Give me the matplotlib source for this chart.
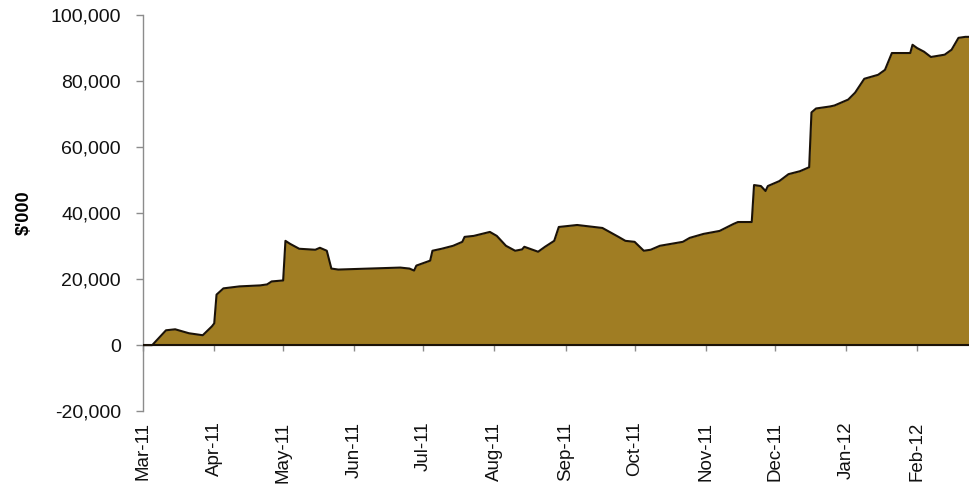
import matplotlib
matplotlib.use("Agg")
import matplotlib.pyplot as plt
import matplotlib.dates as mdates
import matplotlib.ticker as mticker
import numpy as np
import pandas as pd

plt.rcParams['font.family'] = ['Liberation Sans', 'DejaVu Sans']

dates = [
    "2011-03-01", "2011-03-05", "2011-03-11", "2011-03-15", "2011-03-21", "2011-03-27",
    "2011-03-31", "2011-04-01", "2011-04-02", "2011-04-05", "2011-04-12", "2011-04-21",
    "2011-04-24", "2011-04-26", "2011-05-01", "2011-05-02", "2011-05-04", "2011-05-08",
    "2011-05-15", "2011-05-17", "2011-05-20", "2011-05-22", "2011-05-25", "2011-06-21",
    "2011-06-25", "2011-06-27", "2011-06-28", "2011-07-04", "2011-07-05", "2011-07-09",
    "2011-07-14", "2011-07-18", "2011-07-19", "2011-07-23", "2011-07-30", "2011-08-02",
    "2011-08-06", "2011-08-10", "2011-08-13", "2011-08-14", "2011-08-20", "2011-08-23",
    "2011-08-27", "2011-08-29", "2011-09-06", "2011-09-17", "2011-09-24", "2011-09-27",
    "2011-10-01", "2011-10-05", "2011-10-08", "2011-10-12", "2011-10-22", "2011-10-25",
    "2011-10-31", "2011-11-07", "2011-11-13", "2011-11-15", "2011-11-21", "2011-11-22",
    "2011-11-25", "2011-11-27", "2011-11-28", "2011-12-03", "2011-12-07", "2011-12-12",
    "2011-12-16", "2011-12-17", "2011-12-19", "2011-12-25", "2011-12-27", "2012-01-02",
    "2012-01-05", "2012-01-09", "2012-01-15", "2012-01-18", "2012-01-21", "2012-01-26",
    "2012-01-29", "2012-01-30", "2012-02-01", "2012-02-04", "2012-02-07", "2012-02-13",
    "2012-02-16", "2012-02-19", "2012-02-22", "2012-02-24",
]
values = [
    0, 0, 4500, 4800, 3600, 3000,
    5700, 6600, 15300, 17200, 17800, 18100,
    18400, 19300, 19600, 31600, 30700, 29200,
    28900, 29500, 28600, 23200, 22900, 23500,
    23200, 22600, 24100, 25600, 28600, 29200,
    30100, 31300, 32800, 33100, 34300, 33100,
    30100, 28600, 29000, 29800, 28300, 29800,
    31600, 35800, 36400, 35500, 32800, 31600,
    31300, 28600, 28900, 30100, 31300, 32500,
    33700, 34600, 36700, 37300, 37300, 48500,
    48200, 46700, 48200, 49700, 51800, 52700,
    53900, 70500, 71700, 72300, 72600, 74400,
    76500, 80700, 81900, 83400, 88500, 88500,
    88500, 91000, 90000, 88900, 87300, 88000,
    89500, 93100, 93400, 93400,
]
month_ticks = pd.date_range("2011-03-01", "2012-02-01", freq="MS")
y_ticks = [-20000, 0, 20000, 40000, 60000, 80000, 100000]

x = pd.to_datetime(dates)

fig = plt.figure(figsize=(9.69, 4.86), dpi=100)
ax = fig.add_axes([0.1476, 0.154, 0.8524, 0.815])

fill_color = "#A07D23"
ax.fill_between(x, values, 0, color=fill_color, linewidth=0, zorder=2)
ax.plot(x, values, color="#1a1208", linewidth=1.5, zorder=3)
ax.axhline(0, color="#1a1208", linewidth=1.5, zorder=3)

ax.set_xlim(pd.Timestamp("2011-03-01"), pd.Timestamp("2012-02-23 14:00"))
ax.set_ylim(-20000, 100000)

ax.set_yticks(y_ticks)
ax.yaxis.set_major_formatter(mticker.FuncFormatter(lambda v, p: f"{int(v):,}"))
ax.set_xticks(month_ticks)
ax.xaxis.set_major_formatter(mdates.DateFormatter("%b-%y"))

for s in ["top", "right"]:
    ax.spines[s].set_visible(False)
ax.spines["left"].set_color("#8c8c8c")
ax.spines["left"].set_linewidth(1.0)
ax.spines["bottom"].set_position(("data", 0))
ax.spines["bottom"].set_color("#8c8c8c")

ax.tick_params(axis="y", direction="out", length=5, width=1, color="#8c8c8c",
               labelsize=14, pad=11, labelcolor="#111111")
ax.tick_params(axis="x", direction="out", length=4, width=1, color="#8c8c8c",
               labelsize=13.5, pad=51, labelrotation=90, labelcolor="#111111")
for lbl in ax.get_xticklabels():
    lbl.set_verticalalignment("top")

ax.set_ylabel("$'000", fontsize=13, fontweight="bold", labelpad=14)
ax.yaxis.set_label_coords(-0.133, 0.5)

fig.savefig("out.png", dpi=100)
